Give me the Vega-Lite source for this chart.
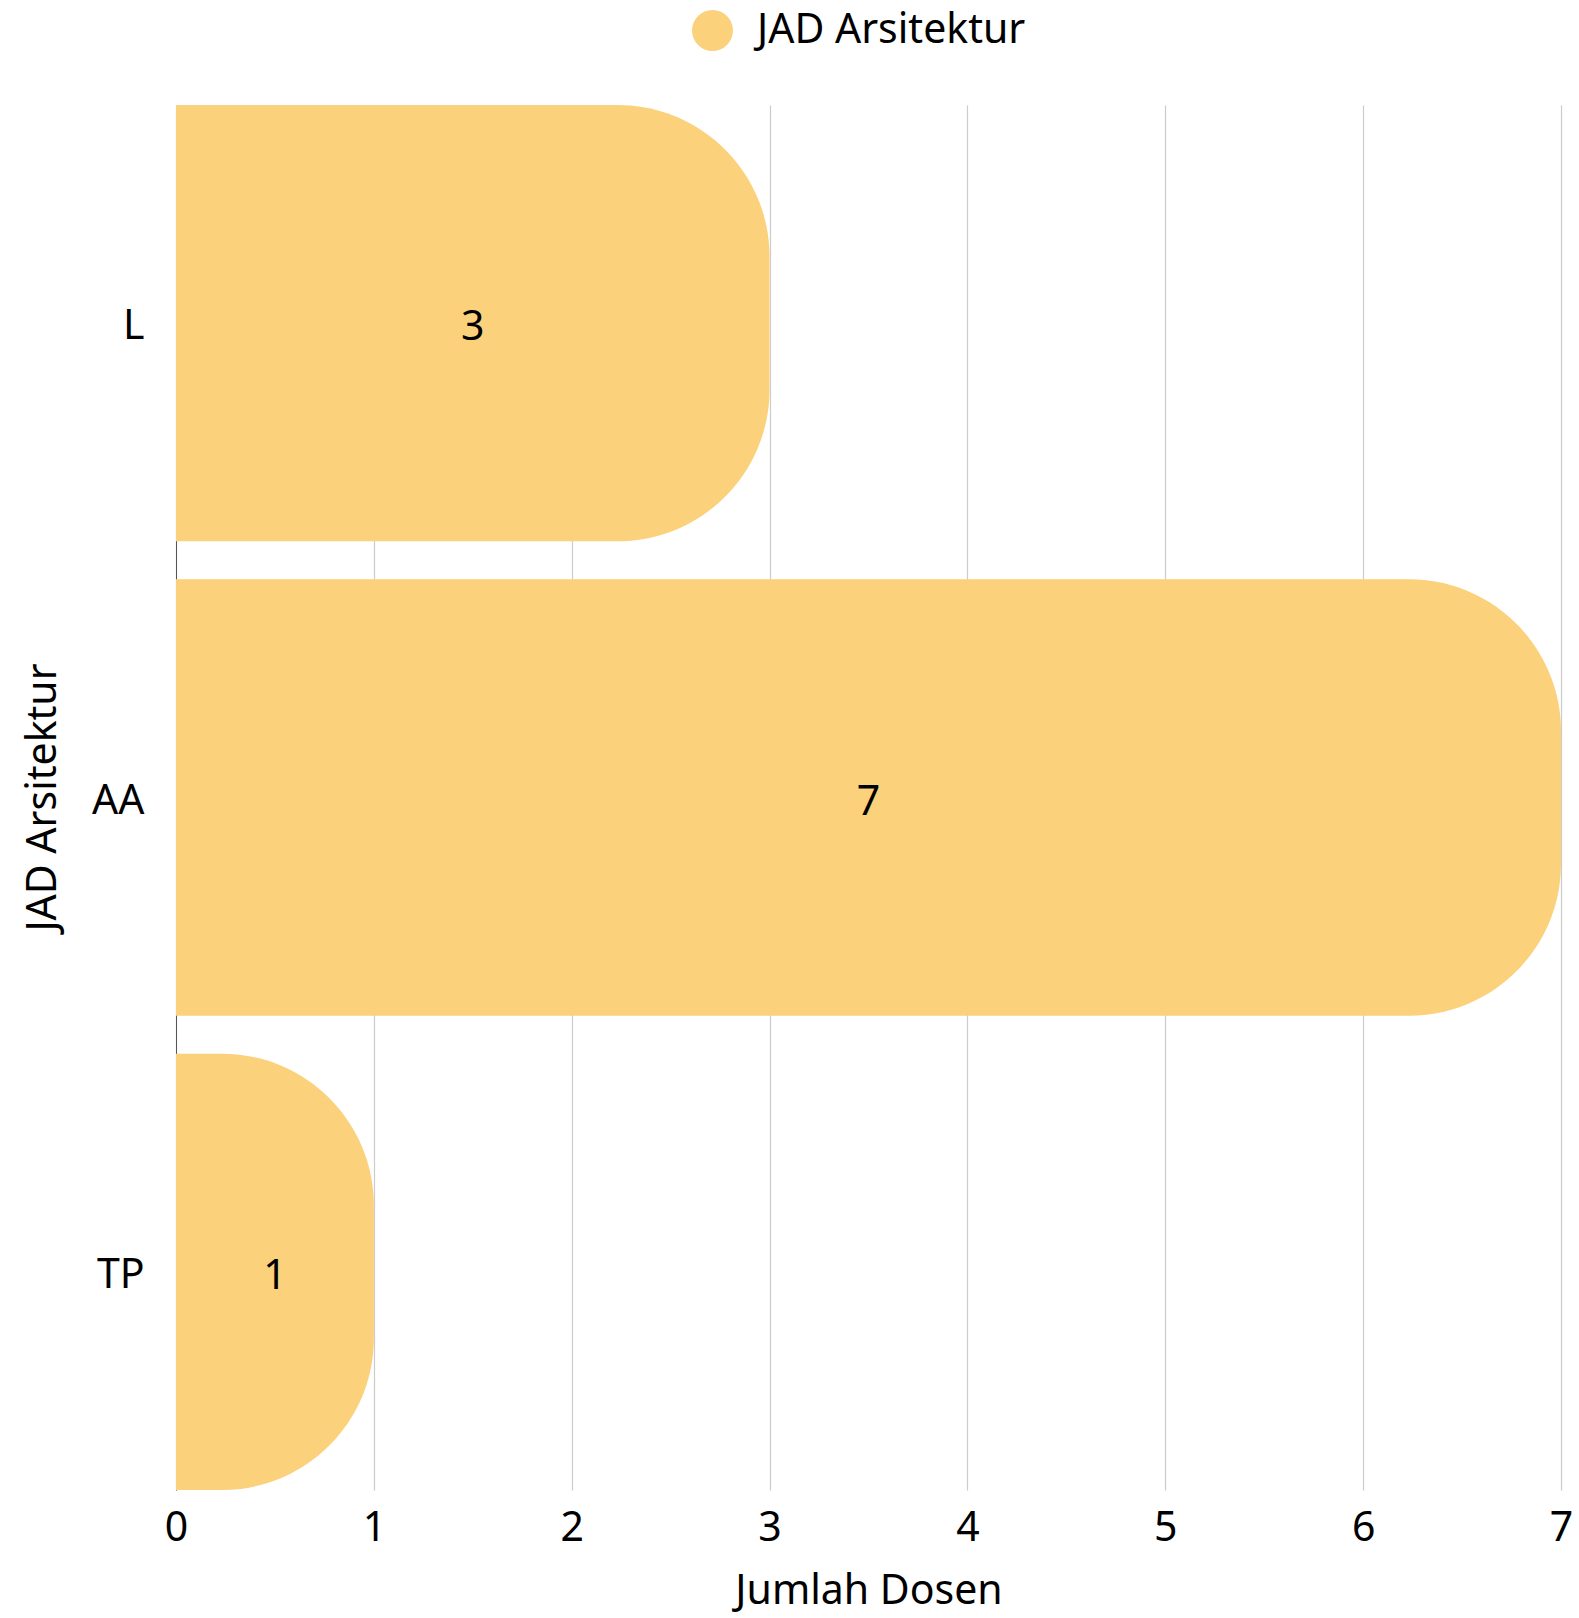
{
  "$schema": "https://vega.github.io/schema/vega-lite/v6.json",
  "width": 1385,
  "height": 1385,
  "autosize": {"type": "none"},
  "padding": {"left": 176, "top": 105, "right": 18, "bottom": 128},
  "background": "#ffffff",
  "config": {
    "font": "Noto Sans",
    "view": {"stroke": null}
  },
  "data": {
    "values": [
      {"jad": "L", "n": 3, "series": "JAD Arsitektur"},
      {"jad": "AA", "n": 7, "series": "JAD Arsitektur"},
      {"jad": "TP", "n": 1, "series": "JAD Arsitektur"}
    ]
  },
  "encoding": {
    "y": {
      "field": "jad",
      "type": "nominal",
      "sort": ["L", "AA", "TP"],
      "scale": {"paddingInner": 0.08, "paddingOuter": 0},
      "axis": {
        "title": "JAD Arsitektur",
        "titleFontSize": 41,
        "titleFontWeight": "normal",
        "titleColor": "#000000",
        "titleX": -133,
        "titleY": 692,
        "titleBaseline": "middle",
        "labelFontSize": 41,
        "labelColor": "#000000",
        "labelPadding": 32,
        "labelOffset": 4,
        "ticks": false,
        "domain": true,
        "domainColor": "#555555",
        "domainWidth": 1,
        "grid": false
      }
    }
  },
  "layer": [
    {
      "mark": {"type": "bar", "cornerRadiusEnd": 152, "clip": true},
      "encoding": {
        "x": {
          "field": "n",
          "type": "quantitative",
          "scale": {"domain": [0, 7], "nice": false},
          "axis": {
            "title": "Jumlah Dosen",
            "titleFontSize": 41,
            "titleFontWeight": "normal",
            "titleColor": "#000000",
            "titleY": 101,
            "titleBaseline": "middle",
            "labelFontSize": 41,
            "labelColor": "#000000",
            "labelPadding": 18,
            "values": [0, 1, 2, 3, 4, 5, 6, 7],
            "format": "d",
            "labelOverlap": false,
            "ticks": false,
            "domain": false,
            "grid": true,
            "gridColor": "#cccccc",
            "gridWidth": 1.2,
            "labelFlush": false
          }
        },
        "x2": {"datum": -1},
        "color": {
          "field": "series",
          "type": "nominal",
          "scale": {"range": ["#FBD17B"]},
          "legend": {
            "title": null,
            "orient": "none",
            "legendX": 516,
            "legendY": -95,
            "symbolType": "circle",
            "symbolSize": 1680,
            "symbolStrokeWidth": 0,
            "labelFontSize": 41,
            "labelColor": "#000000",
            "labelOffset": 24,
            "labelLimit": 600
          }
        }
      }
    },
    {
      "transform": [{"calculate": "datum.n / 2", "as": "mid"}],
      "mark": {"type": "text", "fontSize": 41, "color": "#000000", "baseline": "middle", "align": "center", "dy": 5},
      "encoding": {
        "x": {"field": "mid", "type": "quantitative"},
        "text": {"field": "n", "type": "quantitative"}
      }
    }
  ]
}
